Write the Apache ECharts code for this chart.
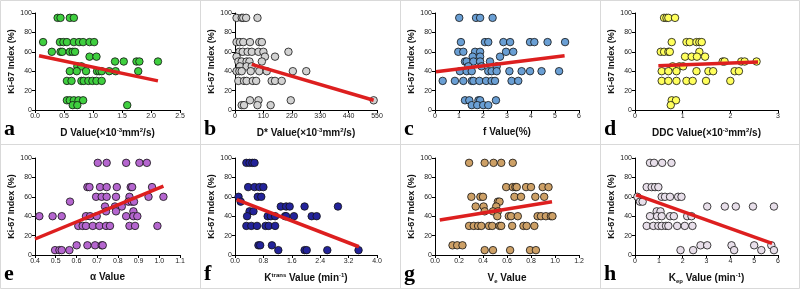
<!DOCTYPE html>
<html>
<head>
<meta charset="utf-8">
<script src="https://cdn.jsdelivr.net/npm/echarts@6/dist/echarts.min.js"></script>
<style>
html, body { margin: 0; padding: 0; background: #fff; }
#main { width: 800px; height: 289px; }
</style>
</head>
<body>
<div id="main"></div>
<script>
// scatter points [x, Ki-67 %] for each panel
var ptsA = [[0.39,95],[0.44,95],[0.60,95],[0.67,95],
    [0.14,70],[0.43,70],[0.49,70],[0.55,70],[0.67,70],[0.76,70],[0.83,70],[0.94,70],[1.02,70],
    [0.29,60],[0.44,60],[0.47,60],[0.60,60],[0.65,60],[0.69,60],
    [0.94,55],[1.06,55],
    [1.38,50],[1.53,50],[1.75,50],[1.80,50],[2.12,50],
    [0.73,45],[0.80,45],
    [0.60,40],[0.72,40],[0.88,40],[1.07,40],[1.11,40],[1.15,40],[1.28,40],[1.39,40],[1.78,40],
    [0.55,30],[0.63,30],[0.80,30],[0.84,30],[0.92,30],[0.99,30],[1.06,30],[1.15,30],
    [0.55,10],[0.60,10],[0.67,10],[0.75,10],[0.83,10],
    [0.65,5],[0.73,5],[1.59,5]];
var ptsB = [[6,95],[26,95],[32,95],[43,95],[87,95],
    [6,70],[19,70],[32,70],[58,70],[94,70],[104,70],
    [17,60],[30,60],[49,60],[65,60],[91,60],[110,60],[207,60],
    [6,55],[116,55],[155,55],
    [13,50],[26,50],[45,50],[56,50],[104,50],
    [19,45],[45,45],[65,45],
    [6,40],[17,40],[26,40],[61,40],[94,40],[123,40],[224,40],[276,40],
    [13,30],[35,30],[45,30],[69,30],[82,30],[142,30],[155,30],[181,30],
    [58,10],[91,10],[216,10],[537,10],
    [26,5],[35,5],[87,5],[138,5]];
var ptsC = [[1.01,95],[1.71,95],[1.88,95],[2.40,95],
    [1.08,70],[2.08,70],[2.22,70],[2.85,70],[3.13,70],[3.96,70],[4.14,70],[4.69,70],[5.42,70],
    [0.97,60],[1.18,60],[1.67,60],[1.88,60],[2.96,60],[3.26,60],
    [1.57,55],[1.88,55],[2.71,55],
    [1.25,50],[1.32,50],[1.60,50],[1.88,50],[2.29,50],
    [1.39,45],[1.94,45],[2.57,45],
    [1.04,40],[1.32,40],[1.53,40],[2.22,40],[2.36,40],[2.57,40],[3.10,40],[3.61,40],[3.96,40],[4.44,40],[5.17,40],
    [0.32,30],[0.83,30],[1.18,30],[1.53,30],[1.60,30],[1.85,30],[2.13,30],[2.36,30],[2.50,30],[3.19,30],[3.47,30],
    [1.25,10],[1.43,10],[1.81,10],[1.88,10],[2.54,10],
    [1.53,5],[1.76,5],[2.01,5],[2.22,5]];
var ptsD = [[0.61,95],[0.66,95],[0.70,95],[0.84,95],
    [0.77,70],[1.08,70],[1.15,70],[1.29,70],[1.35,70],[1.40,70],
    [0.54,60],[0.61,60],[0.70,60],[0.73,60],[1.35,60],
    [1.05,55],[1.19,55],[1.30,55],[1.47,55],
    [1.84,50],[1.88,50],[2.23,50],[2.30,50],[2.55,50],
    [0.79,45],[0.93,45],[1.01,45],
    [0.56,40],[0.70,40],[0.87,40],[1.29,40],[1.54,40],[1.64,40],[2.09,40],[2.18,40],
    [0.56,30],[0.70,30],[0.87,30],[1.08,30],[1.21,30],[1.49,30],[2.00,30],
    [0.77,10],[0.86,10],
    [0.75,5]];
var ptsE = [[0.703,95],[0.746,95],[0.84,95],[0.904,95],[0.94,95],
    [0.653,70],[0.663,70],[0.714,70],[0.746,70],[0.795,70],[0.862,70],[0.869,70],[0.965,70],
    [0.695,60],[0.722,60],[0.746,60],[0.791,60],[0.856,60],[0.948,60],[1.02,60],
    [0.569,55],[0.851,55],[0.867,55],[0.878,55],
    [0.738,50],[0.786,50],[0.819,50],
    [0.743,45],[0.791,45],[0.875,45],
    [0.421,40],[0.485,40],[0.529,40],[0.646,40],[0.666,40],[0.698,40],[0.84,40],[0.875,40],[0.894,40],
    [0.609,30],[0.63,30],[0.646,30],[0.679,30],[0.711,30],[0.743,30],[0.762,30],[0.856,30],[0.883,30],[0.991,30],
    [0.601,10],[0.653,10],[0.69,10],[0.722,10],[0.727,10],
    [0.497,5],[0.518,5],[0.529,5],[0.566,5]];
var ptsF = [[0.32,95],[0.41,95],[0.49,95],[0.55,95],
    [0.37,70],[0.55,70],[0.69,70],[0.80,70],
    [0.10,60],[0.64,60],[0.74,60],
    [0.16,55],
    [1.29,50],[1.44,50],[1.54,50],[1.96,50],[2.90,50],
    [0.41,45],[0.52,45],
    [0.34,40],[0.92,40],[1.01,40],[1.13,40],[1.41,40],[1.44,40],[1.66,40],[2.16,40],[2.30,40],
    [0.32,30],[0.46,30],[0.62,30],[0.86,30],[0.95,30],[1.13,30],
    [0.66,10],[0.71,10],[1.04,10],
    [1.22,5],[1.96,5],[2.02,5],[2.60,5],[3.48,5]];
var ptsG = [[0.284,95],[0.414,95],[0.488,95],[0.552,95],[0.648,95],
    [0.593,70],[0.648,70],[0.67,70],[0.681,70],[0.759,70],[0.80,70],[0.897,70],[0.946,70],
    [0.303,60],[0.378,60],[0.40,60],[0.662,60],[0.717,60],[0.836,60],[0.91,60],
    [0.524,55],[0.538,55],
    [0.339,50],[0.405,50],[0.51,50],
    [0.414,45],[0.483,45],[0.524,45],
    [0.519,40],[0.615,40],[0.634,40],[0.69,40],[0.855,40],[0.883,40],[0.924,40],[0.966,40],[0.979,40],
    [0.284,30],[0.323,30],[0.359,30],[0.386,30],[0.45,30],[0.477,30],[0.538,30],[0.552,30],[0.643,30],[0.737,30],[0.764,30],[0.828,30],
    [0.146,10],[0.185,10],[0.229,10],
    [0.414,5],[0.483,5],[0.626,5],[0.792,5],[0.841,5]];
var ptsH = [[0.63,95],[0.80,95],[1.14,95],[1.53,95],
    [0.49,70],[0.70,70],[0.84,70],[0.98,70],
    [0.10,60],[1.12,60],[1.26,60],[1.47,60],[1.81,60],[1.95,60],
    [0.21,55],[0.32,55],
    [3.03,50],[3.77,50],[4.23,50],[4.95,50],[5.83,50],
    [0.91,45],[1.07,45],
    [0.63,40],[0.93,40],[1.12,40],[1.47,40],[1.63,40],[2.19,40],[2.37,40],
    [0.49,30],[0.77,30],[0.98,30],[1.12,30],[1.30,30],[1.40,30],[1.77,30],[2.09,30],[2.41,30],
    [2.75,10],[3.03,10],[4.05,10],[5.00,10],[5.72,10],
    [1.91,5],[2.44,5],[4.16,5],[5.30,5],[5.83,5]];

// regression line end points
var fitA = [[0.07,56],[2.12,30]];
var fitB = [[65,47],[537,10]];
var fitC = [[0.04,39.5],[5.4,56]];
var fitD = [[0.49,45.5],[2.58,49.5]];
var fitE = [[0.40,16.5],[1.02,71]];
var fitF = [[0.05,57],[3.49,8.5]];
var fitG = [[0.04,36],[0.975,55]];
var fitH = [[0.05,62],[5.75,12]];

// x axis ranges and ticks
var xMins = [0, 0, 0, 0, 0.4, 0, 0, 0];
var xMaxs = [2.5, 550, 6, 3, 1.1, 4.0, 1.2, 6];
var xSteps = [0.5, 110, 1, 1, 0.1, 0.8, 0.2, 1];
var xDecimals = [1, 0, 0, 0, 1, 1, 1, 0];
var yTicks = [0, 20, 40, 60, 80, 100];

var xNames = [
    '{b|D Value(×10}{sup|-3}{b|mm}{sup|2}{b|/s)}',
    '{b|D* Value(×10}{sup|-3}{b|mm}{sup|2}{b|/s)}',
    '{b|f Value(%)}',
    '{b|DDC Value(×10}{sup|-3}{b|mm}{sup|2}{b|/s)}',
    '{b|α Value}',
    '{b|K}{sup|trans}{b| Value (min}{sup|-1}{b|)}',
    '{b|V}{sub|e}{b| Value}',
    '{b|K}{sub|ep}{b| Value (min}{sup|-1}{b|)}'
];
var letters = ['a', 'b', 'c', 'd', 'e', 'f', 'g', 'h'];
var fills = ['#3fcf3f', '#d2d2d2', '#6a9fd4', '#ffff5c', '#b566cf', '#23239a', '#cda066', '#e8dfea'];

var allPts = [ptsA, ptsB, ptsC, ptsD, ptsE, ptsF, ptsG, ptsH];
var allFits = [fitA, fitB, fitC, fitD, fitE, fitF, fitG, fitH];

var lefts = [35, 235, 435, 635];
var widths = [145, 142, 144, 143];
var tops = [13, 158];

var chart = echarts.init(document.getElementById('main'));

var grids = [], xAxes = [], yAxes = [], series = [], graphics = [];
for (var i = 0; i < 8; i++) {
    var col = i % 4, row = Math.floor(i / 4);
    grids.push({ left: lefts[col], top: tops[row], width: widths[col], height: 97 });
    (function(dec) {
        xAxes.push({
            gridIndex: i, type: 'value',
            min: xMins[i], max: xMaxs[i], interval: xSteps[i],
            splitLine: { show: false },
            axisLine: { show: true, onZero: false, lineStyle: { color: '#000', width: 1 } },
            axisTick: { show: true, length: 3, lineStyle: { color: '#000' } },
            axisLabel: { fontSize: 7, color: '#222', margin: 3, fontFamily: 'Liberation Sans',
                formatter: function(v) { return v.toFixed(dec); } },
            name: xNames[i], nameLocation: 'middle', nameGap: 17,
            nameTextStyle: {
                rich: {
                    b: { fontSize: 10, fontWeight: 'bold', color: '#111', fontFamily: 'Liberation Sans' },
                    sup: { fontSize: 6, fontWeight: 'bold', color: '#111', fontFamily: 'Liberation Sans', verticalAlign: 'top', lineHeight: 12 },
                    sub: { fontSize: 6, fontWeight: 'bold', color: '#111', fontFamily: 'Liberation Sans', verticalAlign: 'bottom', lineHeight: 12 }
                }
            }
        });
    })(xDecimals[i]);
    yAxes.push({
        gridIndex: i, type: 'value',
        min: yTicks[0], max: yTicks[yTicks.length - 1], interval: 20,
        splitLine: { show: false },
        axisLine: { show: true, onZero: false, lineStyle: { color: '#000', width: 1 } },
        axisTick: { show: true, length: 3, lineStyle: { color: '#000' } },
        axisLabel: { fontSize: 7, color: '#222', margin: 3, fontFamily: 'Liberation Sans' },
        name: 'Ki-67 Index (%)', nameLocation: 'middle', nameGap: 17,
        nameTextStyle: { fontSize: 9, fontWeight: 'bold', color: '#111', fontFamily: 'Liberation Sans' }
    });
    series.push({
        type: 'scatter', xAxisIndex: i, yAxisIndex: i,
        data: allPts[i], symbolSize: 7.5,
        itemStyle: { color: fills[i], borderColor: '#111', borderWidth: 0.8, opacity: 1 }
    });
    series.push({
        type: 'line', xAxisIndex: i, yAxisIndex: i,
        data: allFits[i], symbol: 'none', z: 3,
        lineStyle: { color: '#dd1f1f', width: 3.5 }
    });
    graphics.push({
        type: 'text', left: lefts[col] - 31, top: tops[row] + 105,
        style: { text: letters[i], fontSize: 22, fontWeight: 'bold', fontFamily: 'Liberation Serif', fill: '#000' }
    });
}

// panel separators
var sepStyle = { stroke: '#d9d9d9', lineWidth: 1 };
[200, 400, 600].forEach(function(x) {
    graphics.push({ type: 'line', shape: { x1: x + 0.5, y1: 0, x2: x + 0.5, y2: 289 }, style: sepStyle, silent: true });
});
graphics.push({ type: 'line', shape: { x1: 0, y1: 144.5, x2: 800, y2: 144.5 }, style: sepStyle, silent: true });
graphics.push({ type: 'rect', shape: { x: 0.5, y: 0.5, width: 799, height: 288 }, style: { stroke: '#d9d9d9', fill: 'none', lineWidth: 1 }, silent: true });

chart.setOption({
    animation: false,
    grid: grids,
    xAxis: xAxes,
    yAxis: yAxes,
    series: series,
    graphic: graphics
});
</script>
</body>
</html>
